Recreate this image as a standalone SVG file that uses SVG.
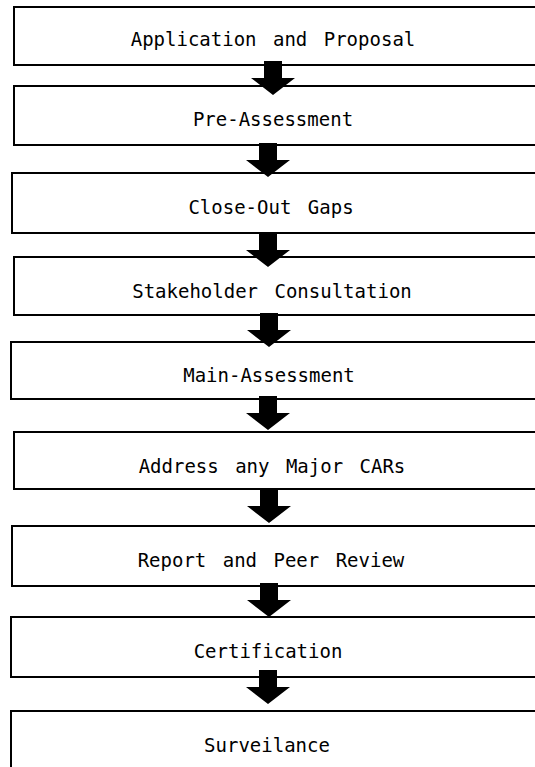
<svg xmlns="http://www.w3.org/2000/svg" width="535" height="767" viewBox="0 0 535 767">
<style>
.box{fill:#fff;stroke:#000;stroke-width:2}
.lbl{font-family:"DejaVu Sans Mono","Liberation Mono",monospace;font-size:19px;fill:#000;text-anchor:middle;word-spacing:5px}
.arr{fill:#000}
</style>
<defs>
<path id="arrow" d="M-9,-34 H9 V-17 H22 L0,0 L-22,-17 H-9 Z"/>
</defs>
<rect width="535" height="767" fill="#fff"/>
<g id="n1"><rect class="box" x="14" y="7" width="540" height="58"/><text class="lbl" x="273" y="46">Application and Proposal</text></g>
<g id="n2"><rect class="box" x="14" y="86" width="540" height="59"/><text class="lbl" x="273" y="126">Pre-Assessment</text></g>
<g id="n3"><rect class="box" x="12" y="173" width="540" height="60"/><text class="lbl" x="271" y="214">Close-Out Gaps</text></g>
<g id="n4"><rect class="box" x="14" y="257" width="540" height="58"/><text class="lbl" x="272" y="298">Stakeholder Consultation</text></g>
<g id="n5"><rect class="box" x="11" y="342" width="540" height="57"/><text class="lbl" x="269" y="382">Main-Assessment</text></g>
<g id="n6"><rect class="box" x="14" y="432" width="540" height="57"/><text class="lbl" x="272" y="473">Address any Major CARs</text></g>
<g id="n7"><rect class="box" x="12" y="526" width="540" height="60"/><text class="lbl" x="271" y="567">Report and Peer Review</text></g>
<g id="n8"><rect class="box" x="11" y="617" width="540" height="60"/><text class="lbl" x="268" y="658">Certification</text></g>
<g id="n9"><rect class="box" x="11" y="711" width="540" height="70"/><text class="lbl" x="267" y="752">Surveilance</text></g>
<g id="connectors" class="arr">
<use href="#arrow" transform="translate(273,95)"/>
<use href="#arrow" transform="translate(268,177)"/>
<use href="#arrow" transform="translate(268,267)"/>
<use href="#arrow" transform="translate(269,347)"/>
<use href="#arrow" transform="translate(268,430)"/>
<use href="#arrow" transform="translate(269,523)"/>
<use href="#arrow" transform="translate(269,617)"/>
<use href="#arrow" transform="translate(268,704)"/>
</g>
</svg>
